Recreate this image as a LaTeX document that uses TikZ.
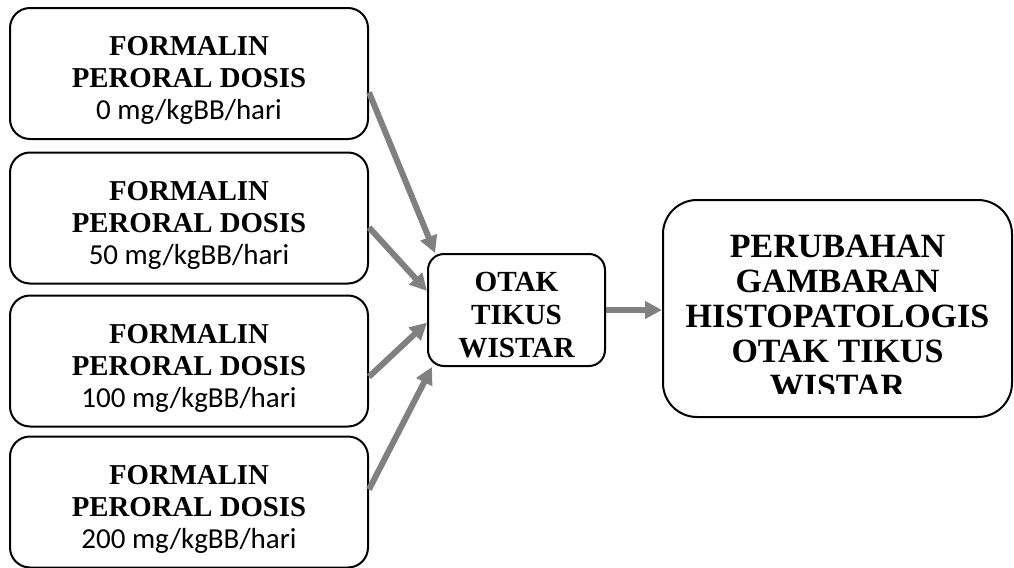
\documentclass[tikz,border=0pt]{standalone}
\usepackage{fontspec}
\setmainfont{Liberation Serif}
\newfontfamily\calibri{Carlito}
\usepackage{tikz}
\usetikzlibrary{arrows.meta}
\tikzset{
	kotak/.style={draw, line width=1pt, rounded corners=10pt, align=center, inner sep=0pt},
	dosis/.style={kotak, minimum width=179pt, minimum height=65.5pt, text height=49pt, text depth=3pt,
		font=\bfseries\fontsize{14.4}{16}\selectfont},
	otak/.style={kotak, rounded corners=8pt, minimum width=88.5pt, minimum height=56pt, text height=47pt, text depth=0pt,
		font=\bfseries\fontsize{14.6}{16.5}\selectfont},
	hasil/.style={kotak, rounded corners=17pt, minimum width=174.5pt, minimum height=108.5pt},
	teks/.style={align=center, inner sep=0pt, text height=88.5pt, text depth=0pt,
		font=\bfseries\fontsize{17}{17.5}\selectfont},
	panah/.style={draw=gray, line width=3pt, -{Triangle[length=8.5pt,width=8.5pt]}},
}
\newcommand{\mgkg}[1]{{\calibri\mdseries\fontsize{14.5}{16}\selectfont #1 mg/kgBB/hari}}

\begin{document}
\begin{tikzpicture}[x=0.5pt,y=-0.5pt]
\useasboundingbox (0,0) rectangle (1014,568);
\draw (189,73.5)node[dosis](d0){FORMALIN\\PERORAL DOSIS\\\mgkg{0}};
\draw (189,218)node[dosis](d50){FORMALIN\\PERORAL DOSIS\\\mgkg{50}};
\draw (189,361)node[dosis](d100){FORMALIN\\PERORAL DOSIS\\\mgkg{100}};
\draw (189,502)node[dosis](d200){FORMALIN\\PERORAL DOSIS\\\mgkg{200}};

\draw (516.5,310)node[otak](otak){OTAK\\TIKUS\\WISTAR};

\draw (837.5,308.5)node[hasil](res){};
\begin{scope}
\clip (663,200) rectangle (1012,393);
\draw (837.5,308.5)node[teks](judul){PERUBAHAN\\GAMBARAN\\HISTOPATOLOGIS\\OTAK TIKUS\\WISTAR};
\end{scope}

\draw[panah] (d0.-6) -- (otak.145);
\draw[panah] (d50.-3) -- (otak.168);
\draw[panah] (d100.-5) -- (otak.-172);
\draw[panah] (d200.4) -- (otak.-146);
\draw[panah] (otak.east) -- (res.west |- otak.east);
\end{tikzpicture}
\end{document}
